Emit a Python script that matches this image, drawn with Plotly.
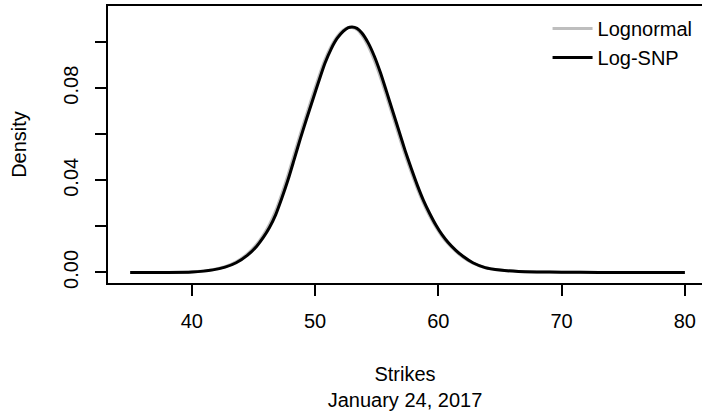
import plotly.graph_objects as go

# Strike grid (x)
strikes = [35, 38, 40, 41.7, 42.7, 43.6, 44.5, 45.25, 45.8, 46.3, 46.8, 47.3, 47.8,
           48.3, 48.8, 49.3, 49.8, 50.3, 50.8, 51.3, 51.8, 52.3, 52.7, 53.0, 53.4,
           53.8, 54.3, 54.8, 55.3, 55.8, 56.3, 56.8, 57.3, 57.8, 58.3, 58.8, 59.3,
           59.8, 60.3, 60.8, 61.4, 62.0, 62.8, 63.8, 65.0, 66.5, 68.0, 70.0, 73.0,
           76.0, 80.0]

# Lognormal density (gray)
lognormal = [0.0, 0.0, 0.0002, 0.0012, 0.0025, 0.0046, 0.0080, 0.0121, 0.0162, 0.0208,
             0.0267, 0.0341, 0.0422, 0.0512, 0.0600, 0.0685, 0.0768, 0.0849, 0.0923,
             0.0981, 0.1025, 0.1053, 0.1064, 0.1063, 0.1055, 0.1030, 0.0984, 0.0922,
             0.0848, 0.0765, 0.0680, 0.0595, 0.0512, 0.0436, 0.0364, 0.0300, 0.0245,
             0.0197, 0.0157, 0.0124, 0.0092, 0.0066, 0.0040, 0.0020, 0.0010, 0.0004,
             0.0002, 0.0001, 0.0, 0.0, 0.0]

# Log-SNP density (black)
log_snp = [0.0, 0.0, 0.0002, 0.0011, 0.0023, 0.0042, 0.0074, 0.0113, 0.0152, 0.0195,
           0.0250, 0.0322, 0.0401, 0.0490, 0.0580, 0.0665, 0.0748, 0.0830, 0.0908,
           0.0970, 0.1017, 0.1048, 0.1063, 0.1066, 0.1060, 0.1040, 0.0998, 0.0940,
           0.0868, 0.0785, 0.0700, 0.0615, 0.0530, 0.0452, 0.0378, 0.0312, 0.0256,
           0.0206, 0.0164, 0.0130, 0.0097, 0.0070, 0.0042, 0.0021, 0.0010, 0.0004,
           0.0002, 0.0001, 0.0, 0.0, 0.0]

x_ticks = [40, 50, 60, 70, 80]
y_ticks = [0.00, 0.02, 0.04, 0.06, 0.08, 0.10]
y_tick_labels = ["0.00", "", "0.04", "", "0.08", ""]

FONT = "Liberation Sans, Arial, sans-serif"

fig = go.Figure()
fig.add_trace(go.Scatter(x=strikes, y=lognormal, mode="lines", name="Lognormal",
                         line=dict(color="#bebebe", width=3, shape="spline", smoothing=0.6)))
fig.add_trace(go.Scatter(x=strikes, y=log_snp, mode="lines", name="Log-SNP",
                         line=dict(color="black", width=3, shape="spline", smoothing=0.6)))

fig.update_layout(
    width=702, height=413,
    margin=dict(l=108, r=0, t=6, b=130),
    paper_bgcolor="white", plot_bgcolor="white",
    font=dict(family=FONT, size=20, color="black"),
    showlegend=True,
    legend=dict(x=0.74, y=0.989, xanchor="left", yanchor="top",
                bgcolor="rgba(0,0,0,0)", font=dict(size=20),
                tracegroupgap=0, itemwidth=40),
    xaxis=dict(range=[33.2, 81.39], tickvals=x_ticks, ticks="outside", ticklen=11,
               tickwidth=1.5, tickcolor="black", showline=True, linecolor="black",
               linewidth=1.5, mirror=True, showgrid=False, zeroline=False,
               tickfont=dict(size=20), automargin=False, ticklabelstandoff=8,
               title=dict(text="Strikes<br>January 24, 2017", standoff=36,
                          font=dict(size=20))),
    yaxis=dict(range=[-0.0046, 0.1157], tickvals=y_ticks, ticktext=y_tick_labels,
               tickangle=-90, ticks="outside", ticklen=11, tickwidth=1.5,
               tickcolor="black", showline=True, linecolor="black", linewidth=1.5,
               mirror=False, showgrid=False, zeroline=False, tickfont=dict(size=20),
               automargin=False, ticklabelstandoff=9,
               title=dict(text="Density", standoff=28, font=dict(size=20))),
)

fig.write_html(
    "out.html",
    config={"displayModeBar": False},
    post_script="document.body.style.margin='0';document.body.style.overflow='hidden';",
)
